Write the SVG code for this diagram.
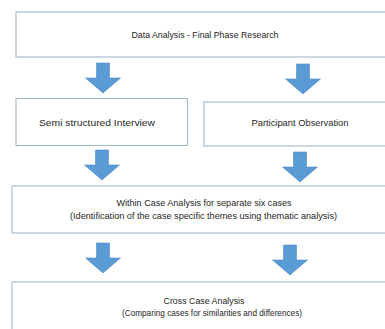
<svg xmlns="http://www.w3.org/2000/svg" width="385" height="329" viewBox="0 0 385 329">
<defs>
<style>
.box{fill:#ffffff;stroke:#a3b8c8;stroke-width:1.1}
.arrow{fill:#5b9bd5;stroke:#4f8cc4;stroke-width:0.6}
.t{font-family:"Liberation Sans",Arial,sans-serif;font-size:8.8px;fill:#262626;text-anchor:middle}
</style>
<path id="arr" d="M-6.5,0 H6.5 V15 H17.5 L0,30 L-17.5,15 H-6.5 Z"/>
</defs>
<rect width="385" height="329" fill="#ffffff"/>
<g id="connectors">
<use href="#arr" class="arrow" transform="translate(103,63)"/>
<use href="#arr" class="arrow" transform="translate(303,64)"/>
<use href="#arr" class="arrow" transform="translate(102,150)"/>
<use href="#arr" class="arrow" transform="translate(300,152)"/>
<use href="#arr" class="arrow" transform="translate(103,243)"/>
<use href="#arr" class="arrow" transform="translate(290,245)"/>
</g>
<g id="node-data-analysis">
<rect class="box" x="16" y="12" width="382" height="45"/>
<text class="t" x="205" y="37.5" textLength="147" lengthAdjust="spacingAndGlyphs">Data Analysis - Final Phase Research</text>
</g>
<g id="node-semi-structured">
<rect class="box" x="16" y="98.5" width="171.5" height="47"/>
<text class="t" x="97" y="125.5" textLength="116" lengthAdjust="spacingAndGlyphs">Semi structured Interview</text>
</g>
<g id="node-participant">
<rect class="box" x="204" y="102" width="194" height="44"/>
<text class="t" x="300" y="126" textLength="97" lengthAdjust="spacingAndGlyphs">Participant Observation</text>
</g>
<g id="node-within-case">
<rect class="box" x="12" y="186" width="386" height="47"/>
<text class="t" x="204" y="206" textLength="175" lengthAdjust="spacingAndGlyphs">Within Case Analysis for separate six cases</text>
<text class="t" x="203.5" y="219" textLength="267" lengthAdjust="spacingAndGlyphs">(Identification of the case specific themes using thematic analysis)</text>
</g>
<g id="node-cross-case">
<rect class="box" x="12" y="282" width="386" height="60"/>
<text class="t" x="204" y="304" textLength="81" lengthAdjust="spacingAndGlyphs">Cross Case Analysis</text>
<text class="t" x="212" y="316" textLength="180" lengthAdjust="spacingAndGlyphs">(Comparing cases for similarities and differences)</text>
</g>
</svg>
